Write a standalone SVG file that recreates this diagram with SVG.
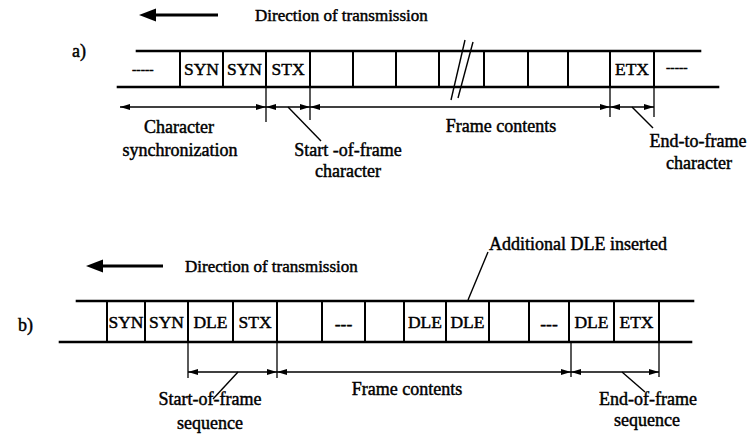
<svg xmlns="http://www.w3.org/2000/svg" width="752" height="435" viewBox="0 0 752 435">
  <defs>
    <marker id="dimHead" viewBox="0 0 10 7" refX="10" refY="3.5" markerWidth="10" markerHeight="7" markerUnits="userSpaceOnUse" orient="auto-start-reverse">
      <path d="M0,0.5 L10,3.5 L0,6.5 z" fill="#000"/>
    </marker>
    <style>
      text { font-family: "Liberation Serif", "Times New Roman", serif; fill: #000; stroke: #000; stroke-width: 0.45; }
      .lbl { font-size: 18px; }
      .dir { font-size: 17px; }
      .cell { font-size: 17.5px; text-anchor: middle; }
      .mid { text-anchor: middle; }
      .rail { stroke: #000; stroke-width: 2.6; fill: none; stroke-linecap: square; }
      .sep { stroke: #000; stroke-width: 2; fill: none; }
      .tick { stroke: #000; stroke-width: 1.3; fill: none; }
      .dim { stroke: #000; stroke-width: 1.3; fill: none; marker-start: url(#dimHead); marker-end: url(#dimHead); }
      .lead { stroke: #000; stroke-width: 1.4; fill: none; }
      .bigarrow line { stroke: #000; stroke-width: 3.2; }
      .bigarrow path { fill: #000; }
    </style>
  </defs>

  <!-- ===== a) character-oriented frame ===== -->
  <g id="a-direction" class="bigarrow">
    <line x1="150" y1="15" x2="218" y2="15"/>
    <path d="M139,15 L156,8.5 L156,21.5 z"/>
    <text class="dir" x="255" y="21">Direction of transmission</text>
  </g>
  <g id="a-label"><text class="lbl" x="72" y="57">a)</text></g>

  <g id="a-frame">
    <line class="rail" x1="137" y1="51" x2="700" y2="51"/>
    <line class="rail" x1="118" y1="87" x2="718" y2="87"/>
    <g class="sep">
      <line x1="180" y1="51" x2="180" y2="87"/>
      <line x1="223" y1="51" x2="223" y2="87"/>
      <line x1="266" y1="51" x2="266" y2="87"/>
      <line x1="310" y1="51" x2="310" y2="87"/>
      <line x1="353" y1="51" x2="353" y2="87"/>
      <line x1="396" y1="51" x2="396" y2="87"/>
      <line x1="439" y1="51" x2="439" y2="87"/>
      <line x1="484" y1="51" x2="484" y2="87"/>
      <line x1="528" y1="51" x2="528" y2="87"/>
      <line x1="568" y1="51" x2="568" y2="87"/>
      <line x1="610" y1="51" x2="610" y2="87"/>
      <line x1="654" y1="51" x2="654" y2="87"/>
    </g>
    <!-- break marks -->
    <line class="lead" x1="465" y1="40" x2="451" y2="100" stroke-width="1.8"/>
    <line class="lead" x1="473" y1="42" x2="458" y2="98" stroke-width="1.8"/>
    <text x="132" y="74" font-size="13">-----</text>
    <text x="666" y="72" font-size="13">-----</text>
  </g>
  <g id="a-syn1"><text class="cell" x="201.5" y="75">SYN</text></g>
  <g id="a-syn2"><text class="cell" x="244.5" y="75">SYN</text></g>
  <g id="a-stx"><text class="cell" x="288" y="75">STX</text></g>
  <g id="a-etx"><text class="cell" x="632" y="75">ETX</text></g>

  <g id="a-connectors">
    <line class="tick" x1="266" y1="87" x2="266" y2="122"/>
    <line class="tick" x1="310" y1="87" x2="310" y2="120"/>
    <line class="tick" x1="610" y1="87" x2="610" y2="117"/>
    <line class="tick" x1="654" y1="87" x2="654" y2="117"/>
    <line class="dim" x1="120" y1="107" x2="266" y2="107"/>
    <line class="dim" x1="266" y1="107" x2="310" y2="107"/>
    <line class="dim" x1="310" y1="107" x2="610" y2="107"/>
    <line class="dim" x1="610" y1="107" x2="654" y2="107"/>
    <line class="lead" x1="288" y1="107" x2="321" y2="141"/>
    <line class="lead" x1="632" y1="107" x2="653" y2="128"/>
  </g>

  <g id="a-sync-text">
    <text class="lbl mid" x="179" y="133">Character</text>
    <text class="lbl mid" x="180" y="156">synchronization</text>
  </g>
  <g id="a-start-text">
    <text class="lbl mid" x="348" y="156">Start -of-frame</text>
    <text class="lbl mid" x="348" y="177">character</text>
  </g>
  <g id="a-contents-text"><text class="lbl mid" x="501" y="132">Frame contents</text></g>
  <g id="a-end-text">
    <text class="lbl mid" x="698" y="147">End-to-frame</text>
    <text class="lbl mid" x="699" y="169">character</text>
  </g>

  <!-- ===== b) transparent (DLE-stuffed) frame ===== -->
  <g id="b-direction" class="bigarrow">
    <line x1="97" y1="266" x2="163" y2="266"/>
    <path d="M86,266 L103,259.5 L103,272.5 z"/>
    <text class="dir" x="185" y="272">Direction of transmission</text>
  </g>
  <g id="b-label"><text class="lbl" x="18" y="331">b)</text></g>

  <g id="b-frame">
    <line class="rail" x1="77" y1="301" x2="693" y2="301"/>
    <line class="rail" x1="60" y1="342" x2="691" y2="342"/>
    <g class="sep">
      <line x1="107" y1="301" x2="107" y2="342"/>
      <line x1="145" y1="301" x2="145" y2="342"/>
      <line x1="188" y1="301" x2="188" y2="342"/>
      <line x1="233" y1="301" x2="233" y2="342"/>
      <line x1="277" y1="301" x2="277" y2="342"/>
      <line x1="322" y1="301" x2="322" y2="342"/>
      <line x1="365" y1="301" x2="365" y2="342"/>
      <line x1="404" y1="301" x2="404" y2="342"/>
      <line x1="446" y1="301" x2="446" y2="342"/>
      <line x1="489" y1="301" x2="489" y2="342"/>
      <line x1="529" y1="301" x2="529" y2="342"/>
      <line x1="569" y1="301" x2="569" y2="342"/>
      <line x1="614" y1="301" x2="614" y2="342"/>
      <line x1="659" y1="301" x2="659" y2="342"/>
    </g>
    <text class="cell" x="343.5" y="330">---</text>
    <text class="cell" x="549" y="330">---</text>
  </g>
  <g id="b-syn1"><text class="cell" x="126" y="328">SYN</text></g>
  <g id="b-syn2"><text class="cell" x="166.5" y="328">SYN</text></g>
  <g id="b-dle1"><text class="cell" x="210.5" y="328">DLE</text></g>
  <g id="b-stx"><text class="cell" x="255" y="328">STX</text></g>
  <g id="b-dle2"><text class="cell" x="425" y="328">DLE</text></g>
  <g id="b-dle3"><text class="cell" x="467.5" y="328">DLE</text></g>
  <g id="b-dle4"><text class="cell" x="591.5" y="328">DLE</text></g>
  <g id="b-etx"><text class="cell" x="636.5" y="328">ETX</text></g>

  <g id="b-connectors">
    <line class="tick" x1="188" y1="342" x2="188" y2="378"/>
    <line class="tick" x1="277" y1="342" x2="277" y2="378"/>
    <line class="tick" x1="571" y1="342" x2="571" y2="377"/>
    <line class="tick" x1="659" y1="342" x2="659" y2="377"/>
    <line class="dim" x1="188" y1="372" x2="277" y2="372"/>
    <line class="dim" x1="277" y1="372" x2="571" y2="372"/>
    <line class="dim" x1="571" y1="372" x2="659" y2="372"/>
    <line class="lead" x1="238" y1="372" x2="213" y2="399"/>
    <line class="lead" x1="622" y1="372" x2="645" y2="392"/>
    <line class="lead" x1="488" y1="252" x2="468" y2="300"/>
  </g>

  <g id="b-inserted-text"><text class="lbl" x="489" y="250" font-size="18.5">Additional DLE inserted</text></g>
  <g id="b-start-text">
    <text class="lbl mid" x="210" y="405">Start-of-frame</text>
    <text class="lbl mid" x="210" y="429">sequence</text>
  </g>
  <g id="b-contents-text"><text class="lbl mid" x="407" y="395">Frame contents</text></g>
  <g id="b-end-text">
    <text class="lbl mid" x="648" y="405">End-of-frame</text>
    <text class="lbl mid" x="647" y="426">sequence</text>
  </g>
</svg>
